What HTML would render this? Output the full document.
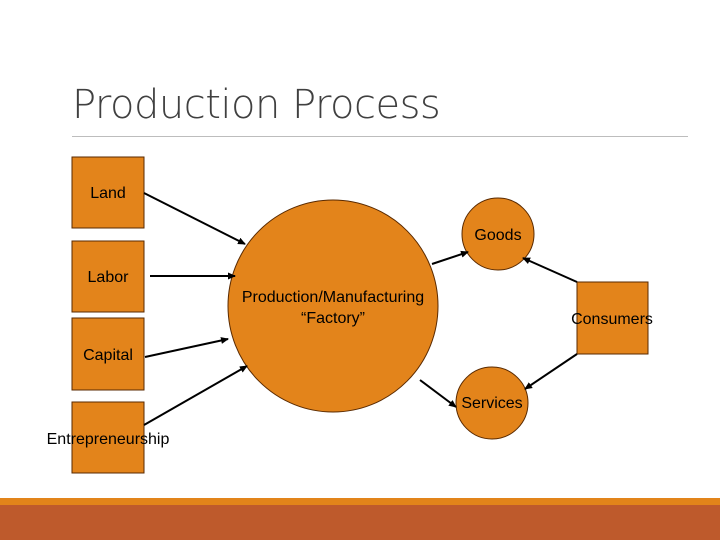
<!DOCTYPE html>
<html><head><style>
body{margin:0;width:720px;height:540px;overflow:hidden;background:#fff;position:relative;font-family:"Liberation Sans",sans-serif}
.t{position:absolute;left:72px;top:82px;font-size:40px;color:#404040;font-family:"DejaVu Sans","Liberation Sans",sans-serif;font-weight:200;letter-spacing:-0.5px}
</style></head><body>
<div class="t">Production Process</div>
<div style="position:absolute;left:72px;top:136px;width:616px;height:1px;background:#bdbdbd"></div>
<div style="position:absolute;left:0;top:498px;width:720px;height:7px;background:#e2841a"></div>
<div style="position:absolute;left:0;top:505px;width:720px;height:35px;background:#be5a2c"></div>
<svg width="720" height="540" style="position:absolute;left:0;top:0" font-family="Liberation Sans, sans-serif" font-size="16">
<defs><marker id="a" markerWidth="8" markerHeight="8" refX="7" refY="4" orient="auto" markerUnits="userSpaceOnUse"><path d="M0,0.5 L8,4 L0,7.5z" fill="#000"/></marker></defs>
<g fill="#e3841b" stroke="#5a2a00" stroke-width="1">
<rect x="72" y="157" width="72" height="71"/>
<rect x="72" y="241" width="72" height="71"/>
<rect x="72" y="318" width="72" height="72"/>
<rect x="72" y="402" width="72" height="71"/>
<rect x="577" y="282" width="71" height="72"/>
<ellipse cx="333" cy="306" rx="105" ry="106"/>
<circle cx="498" cy="234" r="36"/>
<circle cx="492" cy="403" r="36"/>
</g>
<g stroke="#000" stroke-width="2" marker-end="url(#a)">
<line x1="144" y1="193" x2="245" y2="244"/>
<line x1="150" y1="276" x2="235" y2="276"/>
<line x1="145" y1="357" x2="228" y2="339"/>
<line x1="144" y1="425" x2="247" y2="366"/>
<line x1="432" y1="264" x2="468" y2="252"/>
<line x1="420" y1="380" x2="456" y2="407"/>
<line x1="577" y1="282" x2="523" y2="258"/>
<line x1="577" y1="354" x2="525" y2="389"/>
</g>
<g fill="#000" text-anchor="middle">
<text x="108" y="198">Land</text>
<text x="108" y="282">Labor</text>
<text x="108" y="360">Capital</text>
<text x="108" y="444">Entrepreneurship</text>
<text x="333" y="302">Production/Manufacturing</text>
<text x="333" y="323">“Factory”</text>
<text x="498" y="240">Goods</text>
<text x="492" y="408">Services</text>
<text x="612" y="324">Consumers</text>
</g>
</svg>
</body></html>
